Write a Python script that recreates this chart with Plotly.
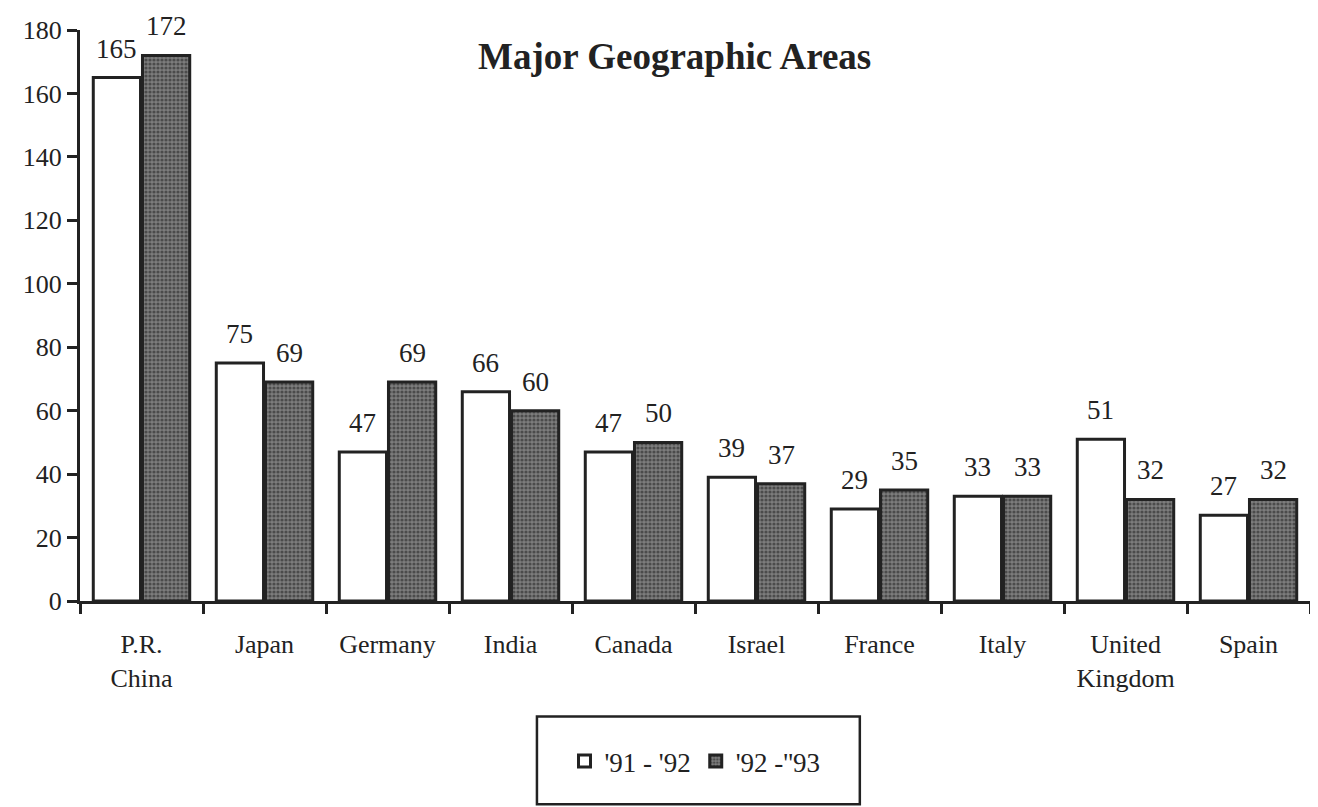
import plotly.graph_objects as go

categories = ["P.R.<br>China", "Japan", "Germany", "India", "Canada", "Israel",
              "France", "Italy", "United<br>Kingdom", "Spain"]
series_names = ["'91 - '92", "'92 -''93"]
values_9192 = [165, 75, 47, 66, 47, 39, 29, 33, 51, 27]
values_9293 = [172, 69, 69, 60, 50, 37, 35, 33, 32, 32]
y_ticks = [0, 20, 40, 60, 80, 100, 120, 140, 160, 180]

FONT = "Liberation Serif"

fig = go.Figure()
fig.add_trace(go.Bar(
    x=categories, y=values_9192, name=series_names[0],
    marker=dict(color="white", line=dict(color="#222", width=3)),
))
fig.add_trace(go.Bar(
    x=categories, y=values_9293, name=series_names[1],
    marker=dict(color="#555",
                line=dict(color="#222", width=3),
                pattern=dict(shape=".", fgcolor="#1a1a1a", bgcolor="#7c7c7c",
                             size=4, solidity=0.5)),
))

annotations = []
for i, (a, b) in enumerate(zip(values_9192, values_9293)):
    for off, v in ((-0.2, a), (0.2, b)):
        annotations.append(dict(
            x=i + off, y=v, xref="x", yref="y", text=str(v), showarrow=False,
            yanchor="bottom", yshift=12, font=dict(family=FONT, size=27, color="#222"),
        ))
annotations.append(dict(
    x=0.483, y=1.0, xref="paper", yref="paper", text="<b>Major Geographic Areas</b>",
    showarrow=False, yanchor="top", yshift=-4,
    font=dict(family=FONT, size=37, color="#222"),
))

fig.update_layout(
    width=1310, height=799,
    margin=dict(l=72, r=8, t=20, b=206),
    paper_bgcolor="white", plot_bgcolor="white",
    barmode="group", bargap=0.2, bargroupgap=0.04,
    font=dict(family=FONT, size=26, color="#222"),
    annotations=annotations,
    showlegend=True,
    legend=dict(orientation="h", x=0.5, xanchor="center", y=-0.281, yanchor="middle",
                font=dict(family=FONT, size=27, color="#222"),
                bgcolor="rgba(0,0,0,0)", borderwidth=0, itemwidth=30),
    shapes=[dict(type="rect", xref="paper", yref="paper",
                 x0=0.3715, x1=0.634, y0=-0.2024, y1=-0.356,
                 line=dict(color="#222", width=2.5), fillcolor="rgba(0,0,0,0)")],
)
fig.update_xaxes(
    type="category", showline=True, linecolor="#222", linewidth=3,
    ticks="outside", tickson="boundaries", ticklen=10, tickwidth=3, tickcolor="#222",
    showgrid=False, tickfont=dict(family=FONT, size=26, color="#222"), ticklabelstandoff=18,
)
fig.update_yaxes(
    range=[0, 180], tickvals=y_ticks, showline=True, linecolor="#222", linewidth=3,
    ticks="outside", ticklen=10, tickwidth=3, tickcolor="#222",
    showgrid=False, zeroline=False, tickfont=dict(family=FONT, size=26, color="#222"),
)

fig.write_html("out.html")
